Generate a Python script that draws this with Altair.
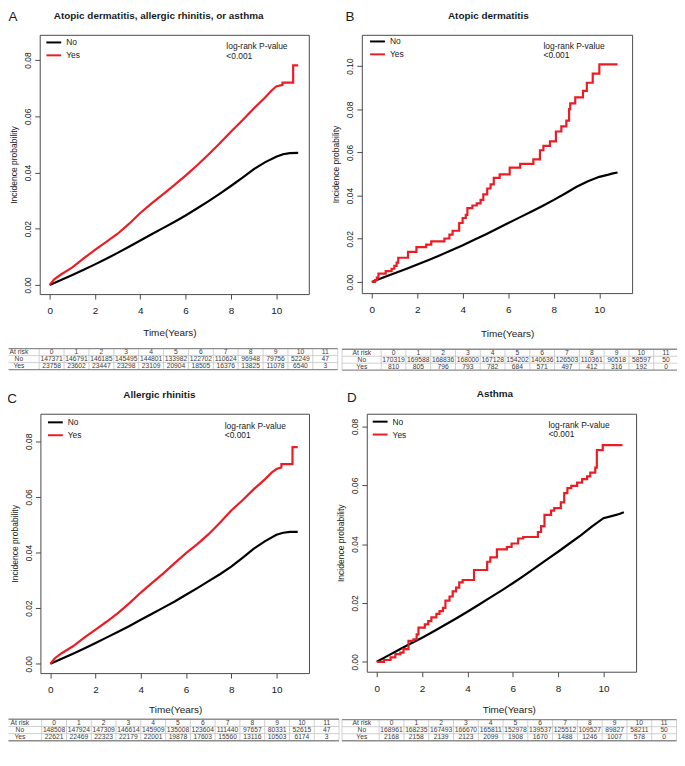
import altair as alt
import pandas as pd

# ---------------- data ----------------
tick_years = [0, 2, 4, 6, 8, 10]
risk_times = ["0", "1", "2", "3", "4", "5", "6", "7", "8", "9", "10", "11"]

# Panel A: Atopic dermatitis, allergic rhinitis, or asthma
A_no_t = [0, 0.5, 1, 1.5, 2, 2.5, 3, 3.5, 4, 4.5, 5, 5.5, 6, 6.5, 7, 7.5, 8, 8.5, 9, 9.5, 10, 10.3, 10.6, 10.97]
A_no_v = [0, 0.0017, 0.0035, 0.0054, 0.0073, 0.0093, 0.0114, 0.0136, 0.0158, 0.018, 0.0202, 0.0224,
          0.0247, 0.0272, 0.0297, 0.0324, 0.0352, 0.0381, 0.0411, 0.0436, 0.0456, 0.0465, 0.0469, 0.047]
A_yes_t = [0, 0.2, 0.5, 1, 1.5, 2, 2.5, 3, 3.5, 4, 4.5, 5, 5.5, 6, 6.5, 7, 7.5, 8, 8.5, 9, 9.5, 9.8, 10,
           10.28, 10.28, 10.75, 10.75, 10.97]
A_yes_v = [0, 0.002, 0.0037, 0.0062, 0.0094, 0.0125, 0.0153, 0.0182, 0.0217, 0.0256, 0.029, 0.0322, 0.0355,
           0.0389, 0.0425, 0.0463, 0.0503, 0.0545, 0.0585, 0.0627, 0.0666, 0.0692, 0.0706, 0.0712, 0.072,
           0.072, 0.0781, 0.0781]
A_risk_no = [147371, 146791, 146185, 145495, 144801, 133982, 122702, 110624, 96948, 79756, 52249, 47]
A_risk_yes = [23758, 23602, 23447, 23298, 23109, 20904, 18505, 16376, 13825, 11078, 6540, 3]

# Panel B: Atopic dermatitis
B_no_t = [0, 0.5, 1, 1.5, 2, 2.5, 3, 3.5, 4, 4.5, 5, 5.5, 6, 6.5, 7, 7.5, 8, 8.5, 9, 9.5, 10, 10.4, 10.6, 10.8]
B_no_v = [0, 0.002, 0.004, 0.006, 0.0081, 0.0102, 0.0124, 0.0147, 0.017, 0.0195, 0.022, 0.0246, 0.0273,
          0.0299, 0.0325, 0.0352, 0.038, 0.041, 0.0441, 0.0466, 0.0487, 0.0497, 0.0503, 0.0507]
B_yes_t = [0, 0.14, 0.22, 0.29, 0.61, 0.87, 0.99, 1.09, 1.16, 1.59, 1.96, 2.39, 2.61, 3.19, 3.41, 3.55,
           3.84, 3.99, 4.13, 4.20, 4.42, 4.61, 4.78, 4.90, 5.07, 5.22, 5.36, 5.62, 6.06, 6.52, 7.10, 7.39,
           7.54, 7.83, 8.09, 8.33, 8.55, 8.67, 8.72, 8.94, 9.28, 9.45, 9.71, 10.00, 10.80]
B_yes_v = [0, 0.0008, 0.002, 0.0038, 0.005, 0.0061, 0.0074, 0.0089, 0.0112, 0.0139, 0.0161, 0.0173, 0.0188,
           0.0201, 0.0219, 0.0237, 0.0273, 0.0296, 0.0311, 0.0342, 0.0354, 0.0364, 0.038, 0.0406, 0.0433,
           0.0452, 0.0482, 0.0498, 0.053, 0.0547, 0.0568, 0.061, 0.063, 0.0651, 0.0697, 0.0721, 0.0747,
           0.0801, 0.0827, 0.0855, 0.0885, 0.0923, 0.0965, 0.1008, 0.1008]
B_risk_no = [170319, 169588, 168836, 168000, 167128, 154202, 140636, 126503, 110361, 90518, 58597, 50]
B_risk_yes = [810, 805, 796, 793, 782, 684, 571, 497, 412, 316, 192, 0]

# Panel C: Allergic rhinitis
C_no_t = [0, 0.5, 1, 1.5, 2, 2.5, 3, 3.5, 4, 4.5, 5, 5.5, 6, 6.5, 7, 7.5, 8, 8.5, 9, 9.5, 10, 10.3, 10.6, 10.94]
C_no_v = [0, 0.0018, 0.0036, 0.0055, 0.0075, 0.0095, 0.0115, 0.0136, 0.0158, 0.018, 0.0202, 0.0224,
          0.0248, 0.0272, 0.0297, 0.0322, 0.0349, 0.0381, 0.0414, 0.0441, 0.0464, 0.0471, 0.0474, 0.0474]
C_yes_t = [0, 0.2, 0.5, 1, 1.5, 2, 2.5, 3, 3.5, 4, 4.5, 5, 5.5, 6, 6.5, 7, 7.5, 8, 8.5, 9, 9.5, 9.8, 10,
           10.22, 10.22, 10.71, 10.71, 10.94]
C_yes_v = [0, 0.002, 0.0038, 0.0063, 0.0094, 0.0123, 0.0152, 0.0183, 0.0218, 0.0256, 0.0291, 0.0325, 0.0362,
           0.0398, 0.043, 0.0466, 0.0507, 0.0551, 0.0588, 0.0628, 0.0664, 0.0688, 0.07, 0.0706, 0.0718,
           0.0718, 0.0779, 0.0779]
C_risk_no = [148508, 147924, 147309, 146614, 145909, 135008, 123604, 111440, 97657, 80331, 52615, 47]
C_risk_yes = [22621, 22469, 22323, 22179, 22001, 19878, 17603, 15560, 13116, 10503, 6174, 3]

# Panel D: Asthma
D_no_t = [0, 0.5, 1, 1.5, 2, 2.5, 3, 3.5, 4, 4.5, 5, 5.5, 6, 6.5, 7, 7.5, 8, 8.5, 9, 9.5, 10, 10.4, 10.7, 10.9]
D_no_v = [0, 0.0021, 0.0042, 0.0062, 0.0082, 0.0103, 0.0125, 0.0147, 0.017, 0.0194, 0.0218, 0.0242,
          0.0267, 0.0293, 0.032, 0.0347, 0.0374, 0.0402, 0.043, 0.046, 0.0488, 0.0496, 0.0502, 0.0508]
D_yes_t = [0, 0.32, 0.61, 0.82, 1.04, 1.18, 1.40, 1.62, 1.76, 1.84, 2.12, 2.27, 2.41, 2.63, 2.77, 2.92,
           3.03, 3.21, 3.35, 3.50, 3.64, 3.79, 4.29, 4.87, 5.01, 5.30, 5.74, 5.95, 6.24, 6.46, 7.11, 7.25,
           7.40, 7.69, 7.83, 8.12, 8.27, 8.41, 8.58, 8.84, 9.06, 9.28, 9.42, 9.64, 9.71, 9.97, 10.84]
D_yes_v = [0, 0.0006, 0.0015, 0.0026, 0.0031, 0.0043, 0.0071, 0.0076, 0.0093, 0.0116, 0.0127, 0.0138,
           0.0151, 0.0163, 0.0172, 0.0183, 0.0208, 0.0222, 0.0239, 0.0252, 0.027, 0.0278, 0.0312, 0.034,
           0.0355, 0.0382, 0.039, 0.0402, 0.0419, 0.0424, 0.0441, 0.0461, 0.0499, 0.0514, 0.0522, 0.0542,
           0.0573, 0.059, 0.0598, 0.0609, 0.0621, 0.063, 0.0643, 0.066, 0.0719, 0.0736, 0.0736]
D_risk_no = [168961, 168235, 167493, 166670, 165811, 152978, 139537, 125512, 109527, 89827, 58211, 50]
D_risk_yes = [2168, 2158, 2139, 2123, 2099, 1908, 1670, 1488, 1246, 1007, 578, 0]

# ---------------- layout / style ----------------
W, H = 675, 750
MARGIN = 8
FONT = "Liberation Sans"
RED = "#ec1c24"
FRAME = "#4a4a4a"
TXT = "#1a1a1a"
XDOM = [-0.44, 11.44]


def cx(x):
    return x - MARGIN


def cy(y):
    return y - MARGIN


PANELS = [
    dict(letter="A", title="Atopic dermatitis, allergic rhinitis, or asthma",
         no=(A_no_t, A_no_v), yes=(A_yes_t, A_yes_v), step=False, risk=(A_risk_no, A_risk_yes),
         frame=(40, 311.5, 31.7, 293.3), ydom=[-0.00328, 0.0890], yticks=[0, 0.02, 0.04, 0.06, 0.08],
         letter_xy=(13, 13.5), title_xy=(160, 12.5), logrank=(228.3, 43.3, 52.7),
         legend=(46.7, 41.7), xtitle=(170.8, 331.7),
         table=dict(top=348.3, bottom=369.5, col0=52, w=25.1, labx=19, leftb=None)),
    dict(letter="B", title="Atopic dermatitis",
         no=(B_no_t, B_no_v), yes=(B_yes_t, B_yes_v), step=True, risk=(B_risk_no, B_risk_yes),
         frame=(365, 637.7, 31.7, 292.3), ydom=[-0.00519, 0.1145], yticks=[0, 0.02, 0.04, 0.06, 0.08, 0.10],
         letter_xy=(353, 13.5), title_xy=(492.7, 12.5), logrank=(548.3, 43.3, 52.3),
         legend=(373.3, 40.7), xtitle=(511.7, 332),
         table=dict(top=349, bottom=370, col0=397, w=25, labx=365, leftb=345)),
    dict(letter="C", title="Allergic rhinitis",
         no=(C_no_t, C_no_v), yes=(C_yes_t, C_yes_v), step=False, risk=(C_risk_no, C_risk_yes),
         frame=(40.7, 311.7, 414, 675.7), ydom=[-0.00335, 0.0899], yticks=[0, 0.02, 0.04, 0.06, 0.08],
         letter_xy=(12, 399), title_xy=(160.7, 395), logrank=(226.7, 426, 435.7),
         legend=(48.3, 425), xtitle=(176.7, 711.7),
         table=dict(top=722.3, bottom=744, col0=54.5, w=25, labx=20, leftb=None)),
    dict(letter="D", title="Asthma",
         no=(D_no_t, D_no_v), yes=(D_yes_t, D_yes_v), step=True, risk=(D_risk_no, D_risk_yes),
         frame=(370, 641.7, 414, 674.3), ydom=[-0.00337, 0.0843], yticks=[0, 0.02, 0.04, 0.06, 0.08],
         letter_xy=(355, 398.3), title_xy=(499.3, 394), logrank=(553.3, 425, 434.7),
         legend=(376, 424.3), xtitle=(513.3, 711.7),
         table=dict(top=722.7, bottom=744, col0=395, w=25, labx=365, leftb=345)),
]

ONE = pd.DataFrame({"k": [0]})


def text_layer(s, x, y, size, weight="normal", align="center", color=TXT):
    return alt.Chart(ONE).mark_text(
        text=s, font=FONT, fontSize=size, fontWeight=weight, align=align,
        baseline="middle", color=color
    ).encode(x=alt.value(cx(x)), y=alt.value(cy(y)))


def curve_df(t, v, grp):
    return pd.DataFrame({"t": t, "v": v, "group": grp, "seq": list(range(len(t)))})


def panel_layers(p):
    fl, fr, ft, fb = p["frame"]
    xs = alt.Scale(domain=XDOM, range=[cx(fl), cx(fr)], nice=False, zero=False)
    ys = alt.Scale(domain=p["ydom"], range=[cy(fb), cy(ft)], nice=False, zero=False)
    cs = alt.Scale(domain=["No", "Yes"], range=["#000000", RED])
    out = []

    x_axis = alt.Axis(
        orient="bottom", offset=cy(fb) - H, values=tick_years, format="d", grid=False,
        tickSize=5, tickColor=FRAME, tickWidth=1, domainColor=FRAME, domainWidth=1,
        labelFontSize=10, labelColor=TXT, labelPadding=6.5, labelFlush=False, labelFont=FONT,
        title="Time(Years)", titleFontSize=10, titleFontWeight=400, titleColor=TXT,
        titleFont=FONT, titleX=cx(p["xtitle"][0]), titleY=p["xtitle"][1] - fb + 0.6,
        titleBaseline="middle", titleAlign="center")
    y_axis = alt.Axis(
        orient="left", offset=-cx(fl), values=p["yticks"], format=".2f", grid=False,
        tickSize=5, tickColor=FRAME, tickWidth=1, domainColor=FRAME, domainWidth=1,
        labelFontSize=8.5, labelColor=TXT, labelPadding=2, labelAngle=270, labelAlign="center",
        labelBaseline="bottom", labelFlush=False, labelFont=FONT,
        title="Incidence probability", titleFontSize=8.6, titleFontWeight=400, titleColor=TXT,
        titleFont=FONT, titleAngle=270, titleX=-26.5, titleY=cy((ft + fb) / 2),
        titleBaseline="middle", titleAlign="center")
    lx, ly = p["legend"]
    legend = alt.Legend(
        orient="none", legendX=cx(lx) - 1, legendY=cy(ly) - 10.8, title=None, symbolType="stroke",
        symbolSize=225, symbolStrokeWidth=2, labelFontSize=8.5, labelOffset=4, rowPadding=-5,
        padding=0, labelColor=TXT, labelFont=FONT)

    no_df = curve_df(p["no"][0], p["no"][1], "No")
    yes_df = curve_df(p["yes"][0], p["yes"][1], "Yes")

    out.append(alt.Chart(no_df).mark_line(strokeWidth=2.2, interpolate="linear").encode(
        x=alt.X("t:Q", scale=xs, axis=x_axis),
        y=alt.Y("v:Q", scale=ys, axis=y_axis),
        color=alt.Color("group:N", scale=cs, legend=legend),
        order=alt.Order("seq:Q")))
    out.append(alt.Chart(yes_df).mark_line(
        strokeWidth=2.2, interpolate="step-after" if p["step"] else "linear").encode(
        x=alt.X("t:Q", scale=xs, axis=None),
        y=alt.Y("v:Q", scale=ys, axis=None),
        color=alt.Color("group:N", scale=cs, legend=None),
        order=alt.Order("seq:Q")))
    # frame: top and right domain lines
    out.append(alt.Chart(no_df).mark_point(opacity=0).encode(
        x=alt.X("t:Q", scale=xs, axis=alt.Axis(
            orient="top", offset=-cy(ft), labels=False, ticks=False, grid=False, title=None,
            domainColor=FRAME, domainWidth=1)),
        y=alt.Y("v:Q", scale=ys, axis=alt.Axis(
            orient="right", offset=cx(fr) - W, labels=False, ticks=False, grid=False, title=None,
            domainColor=FRAME, domainWidth=1))))

    # annotations
    out.append(text_layer(p["letter"], p["letter_xy"][0], p["letter_xy"][1], 13.5))
    out.append(text_layer(p["title"], p["title_xy"][0], p["title_xy"][1], 10, weight="bold"))
    lrx, lr1, lr2 = p["logrank"]
    out.append(text_layer("log-rank P-value", lrx, lr1, 8.5, align="left"))
    out.append(text_layer("<0.001", lrx, lr2, 8.5, align="left"))

    # at-risk table
    tb = p["table"]
    left0 = tb["col0"] - tb["w"] / 2
    txs = alt.Scale(domain=[0, 12], range=[cx(left0), cx(left0 + 12 * tb["w"])], nice=False, zero=False)
    tys = alt.Scale(domain=[-0.5, 2.5], range=[cy(tb["top"]), cy(tb["bottom"])], nice=False, zero=False)
    lab_pos = (tb["labx"] - left0) / tb["w"]
    recs = []
    for r, lab in enumerate(["At risk", "No", "Yes"]):
        recs.append(dict(c=lab_pos, r=r, s=lab))
    for i, h in enumerate(risk_times):
        recs.append(dict(c=i + 0.5, r=0, s=h))
        recs.append(dict(c=i + 0.5, r=1, s=str(p["risk"][0][i])))
        recs.append(dict(c=i + 0.5, r=2, s=str(p["risk"][1][i])))
    cells = pd.DataFrame(recs)
    out.append(alt.Chart(cells).mark_text(font=FONT, fontSize=6.8, color="#3a3a3a").encode(
        x=alt.X("c:Q", scale=txs, axis=None), y=alt.Y("r:Q", scale=tys, axis=None), text="s:N"))

    if tb["leftb"] is not None:
        hstart = (tb["leftb"] - left0) / tb["w"]
    else:
        hstart = (MARGIN + 0.5 - left0) / tb["w"]
    vb = list(range(0, 13)) + ([hstart] if tb["leftb"] is not None else [])
    vdf = pd.DataFrame({"c": vb, "r0": -0.5, "r1": 2.5})
    out.append(alt.Chart(vdf).mark_rule(color="#c4c4c4", strokeWidth=0.8).encode(
        x=alt.X("c:Q", scale=txs, axis=None), y=alt.Y("r0:Q", scale=tys, axis=None), y2="r1:Q"))
    inner = pd.DataFrame({"r": [0.5, 1.5], "c0": hstart, "c1": 12})
    outer = pd.DataFrame({"r": [-0.5, 2.5], "c0": hstart, "c1": 12})
    out.append(alt.Chart(inner).mark_rule(color="#c4c4c4", strokeWidth=0.8).encode(
        x=alt.X("c0:Q", scale=txs, axis=None), x2="c1:Q", y=alt.Y("r:Q", scale=tys, axis=None)))
    out.append(alt.Chart(outer).mark_rule(color="#8c8c8c", strokeWidth=1.4).encode(
        x=alt.X("c0:Q", scale=txs, axis=None), x2="c1:Q", y=alt.Y("r:Q", scale=tys, axis=None)))
    return out


layers = []
for p in PANELS:
    layers.extend(panel_layers(p))

chart = alt.layer(*layers).resolve_scale(
    x="independent", y="independent", color="independent"
).properties(
    width=W, height=H, padding=0, autosize=alt.AutoSizeParams(type="none")
).configure(font=FONT).configure_view(stroke=None)

chart.save("out.html", embed_options={"renderer": "svg", "actions": False})
